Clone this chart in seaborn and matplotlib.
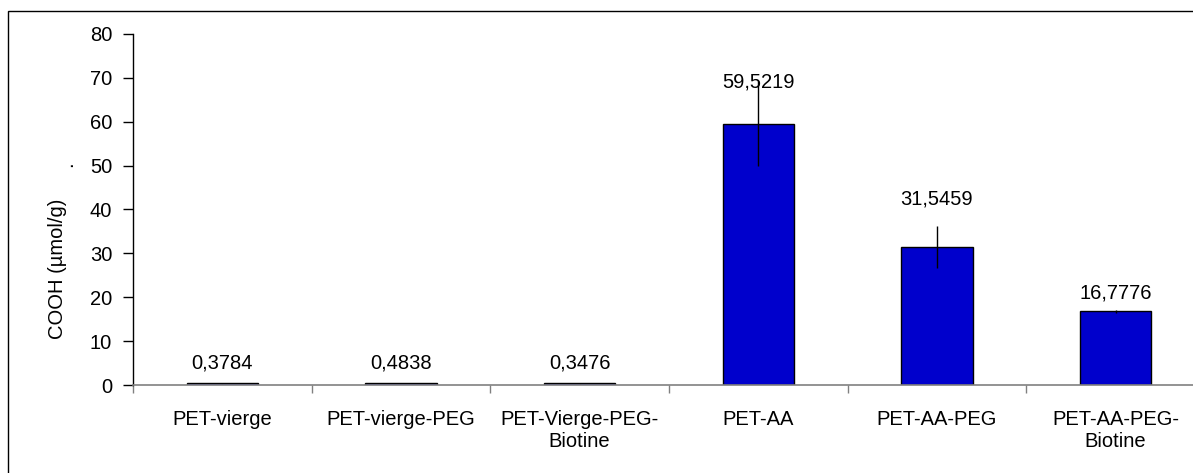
import matplotlib
matplotlib.use("Agg")
import matplotlib.pyplot as plt
import matplotlib.patches as mpatches
import seaborn as sns
import pandas as pd

# Données
echantillons = ['PET-vierge', 'PET-vierge-PEG', 'PET-Vierge-PEG-\nBiotine',
                'PET-AA', 'PET-AA-PEG', 'PET-AA-PEG-\nBiotine']
cooh = [0.3784, 0.4838, 0.3476, 59.5219, 31.5459, 16.7776]
ecart = [0.05, 0.05, 0.05, 9.7, 4.8, 0.3]
etiquettes = ['0,3784', '0,4838', '0,3476', '59,5219', '31,5459', '16,7776']
pos_etiquettes = [5.0, 5.0, 5.0, 69.0, 42.5, 21.0]

df = pd.DataFrame({'Echantillon': echantillons, 'COOH': cooh})

sns.set_style("white")
plt.rcParams['font.family'] = ['Liberation Sans', 'DejaVu Sans']
plt.rcParams['text.color'] = 'black'
plt.rcParams['axes.labelcolor'] = 'black'
plt.rcParams['xtick.color'] = 'black'
plt.rcParams['ytick.color'] = 'black'
fs = 14.5

fig = plt.figure(figsize=(11.93, 4.73), dpi=100)
ax = fig.add_axes([133 / 1193, 88 / 473, 1072 / 1193, 351 / 473])

sns.barplot(data=df, x='Echantillon', y='COOH', color='#0000CC', width=0.4,
            edgecolor='black', linewidth=1, errorbar=None, saturation=1, ax=ax)
ax.errorbar(range(len(cooh)), cooh, yerr=ecart, fmt='none', ecolor='black',
            elinewidth=1, capsize=0)

for i, (txt, y) in enumerate(zip(etiquettes, pos_etiquettes)):
    ax.text(i, y, txt, ha='center', va='center', fontsize=fs, color='black')

ax.set_xlim(-0.5, 5.5)
ax.set_ylim(0, 80)
ax.set_yticks(range(0, 81, 10))
ax.set_xlabel('')
ax.set_ylabel('COOH (µmol/g)', fontsize=fs)
ax.yaxis.set_label_coords(-0.062, 0.33)
ax.text(-0.062, 0.63, '.', transform=ax.transAxes, ha='center', va='center',
        fontsize=fs, rotation=90, color='black')

for s in ['top', 'right']:
    ax.spines[s].set_visible(False)
ax.spines['left'].set_color('black')
ax.spines['bottom'].set_color('#808080')
ax.spines['left'].set_linewidth(1)
ax.spines['bottom'].set_linewidth(1.2)

ax.tick_params(axis='y', direction='out', length=7, width=1, color='black',
               labelsize=fs, pad=8, left=True, labelcolor='black')
ax.tick_params(axis='x', which='major', length=0, labelsize=fs, pad=18,
               labelcolor='black')
ax.set_xticks([i - 0.5 for i in range(7)], minor=True)
ax.tick_params(axis='x', which='minor', direction='out', length=6, width=1,
               color='#808080', bottom=True)

# cadre extérieur (coupé à droite et en bas)
fig.patches.append(mpatches.Rectangle((8 / 1193, -0.5), 1.5, 0.5 + 1 - 11 / 473,
                                      transform=fig.transFigure, fill=False,
                                      edgecolor='black', linewidth=1))

fig.savefig('out.png', dpi=100)
